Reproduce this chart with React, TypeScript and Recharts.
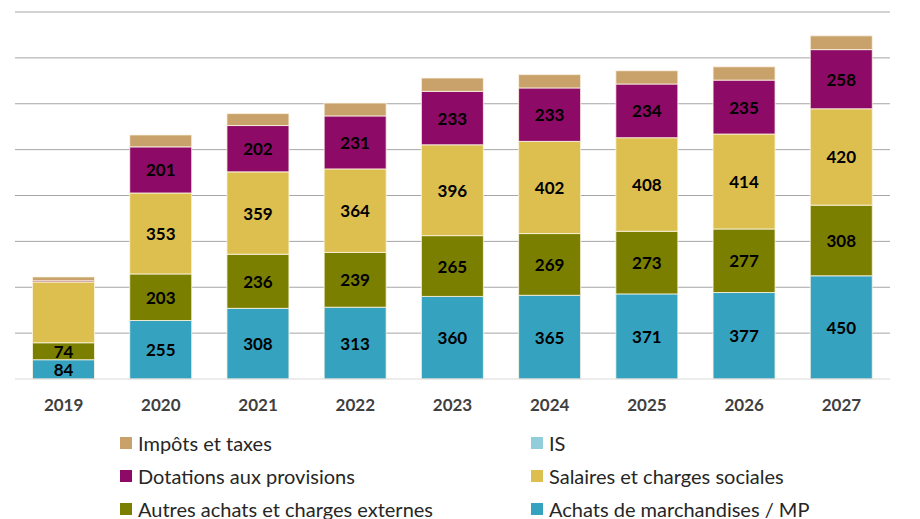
import { BarChart, Bar, XAxis, YAxis, CartesianGrid, LabelList } from 'recharts';

const YEARS = ['2019', '2020', '2021', '2022', '2023', '2024', '2025', '2026', '2027'];

// k€ par poste
const ACHATS_MP     = [84, 255, 308, 313, 360, 365, 371, 377, 450];
const AUTRES_ACHATS = [74, 203, 236, 239, 265, 269, 273, 277, 308];
const SALAIRES      = [265, 353, 359, 364, 396, 402, 408, 414, 420];
const DOTATIONS     = [5, 201, 202, 231, 233, 233, 234, 235, 258];
const IS            = [0, 0, 0, 0, 0, 0, 0, 0, 0];
const IMPOTS        = [17, 52, 52, 56, 58, 58, 58, 58, 60];

const Y_TICKS = [0, 200, 400, 600, 800, 1000, 1200, 1400, 1600];

const FONT = 'Lato, "Open Sans", sans-serif';

const SERIES = [
    { key: 'achats',    name: 'Achats de marchandises / MP',    color: '#35a3c0', labelled: true,  hidden: [] as string[] },
    { key: 'autres',    name: 'Autres achats et charges externes', color: '#7a7f00', labelled: true,  hidden: [] as string[] },
    { key: 'salaires',  name: 'Salaires et charges sociales',   color: '#dcbf4e', labelled: true,  hidden: ['2019'] },
    { key: 'dotations', name: 'Dotations aux provisions',       color: '#8d0a66', labelled: true,  hidden: ['2019'] },
    { key: 'is',        name: 'IS',                             color: '#92cddc', labelled: false, hidden: [] as string[] },
    { key: 'impots',    name: 'Impôts et taxes',                color: '#c8a16b', labelled: false, hidden: [] as string[] },
];

// legend order as in the source: two columns, top of stack first
const LEGEND_ORDER = ['impots', 'is', 'dotations', 'salaires', 'autres', 'achats'];

const data = YEARS.map((year, i) => ({
    year,
    achats:    ACHATS_MP[i],
    autres:    AUTRES_ACHATS[i],
    salaires:  SALAIRES[i],
    dotations: DOTATIONS[i],
    is:        IS[i],
    impots:    IMPOTS[i],
}));

function makeLabel(hidden: string[]) {
    return (props: any) => {
        const { x, y, width, height, value, index } = props;
        if (index != null && hidden.includes(YEARS[index])) return null;
        if (!value) return null;
        return (
            <text
                x={Number(x) + Number(width) / 2}
                y={Number(y) + Number(height) / 2}
                textAnchor="middle"
                dominantBaseline="central"
                fontFamily={FONT}
                fontWeight={700}
                fontSize={17}
                fill="#000"
            >
                {value}
            </text>
        );
    };
}

function ChartLegend() {
    const rows = [];
    for (let r = 0; r < 3; r++) {
        const pair = LEGEND_ORDER.slice(r * 2, r * 2 + 2).map((k) => SERIES.find((s) => s.key === k)!);
        rows.push(pair);
    }
    return (
        <div style={{ position: 'absolute', left: 0, top: 426, width: 920, fontFamily: FONT, fontSize: 20, color: '#262626' }}>
            {rows.map((pair, r) => (
                <div key={r} style={{ position: 'relative', height: 33 }}>
                    {pair.map((s, c) => (
                        <div
                            key={s.key}
                            style={{
                                position: 'absolute',
                                left: c === 0 ? 120 : 531,
                                top: 0,
                                height: 33,
                                display: 'flex',
                                alignItems: 'center',
                                whiteSpace: 'nowrap',
                            }}
                        >
                            <span style={{ display: 'inline-block', width: 12, height: 12, background: s.color, marginRight: 6 }} />
                            {s.name}
                        </div>
                    ))}
                </div>
            ))}
        </div>
    );
}

export default function App() {
    return (
        <div style={{ position: 'absolute', left: 0, top: 0, width: 920, height: 519, background: '#fff' }}>
            <BarChart
                width={920}
                height={519}
                data={data}
                margin={{ top: 12, right: 30, left: 15, bottom: 100 }}
                barCategoryGap="18%"
            >
                <CartesianGrid
                    vertical={false}
                    stroke="#a6a6a6"
                    strokeWidth={1}
                    horizontalValues={Y_TICKS.filter((t) => t > 0)}
                />
                <XAxis
                    dataKey="year"
                    axisLine={{ stroke: '#d9d9d9' }}
                    tickLine={false}
                    tickMargin={14}
                    height={40}
                    tick={{ fontFamily: FONT, fontWeight: 700, fontSize: 17, fill: '#404040' }}
                />
                <YAxis hide domain={[0, 1600]} ticks={Y_TICKS} />
                {SERIES.map((s) => (
                    <Bar
                        key={s.key}
                        dataKey={s.key}
                        name={s.name}
                        stackId="charges"
                        fill={s.color}
                        stroke="#fdf6e6"
                        strokeWidth={0.8}
                        isAnimationActive={false}
                    >
                        {s.labelled && <LabelList dataKey={s.key} content={makeLabel(s.hidden)} />}
                    </Bar>
                ))}
            </BarChart>
            <ChartLegend />
        </div>
    );
}
